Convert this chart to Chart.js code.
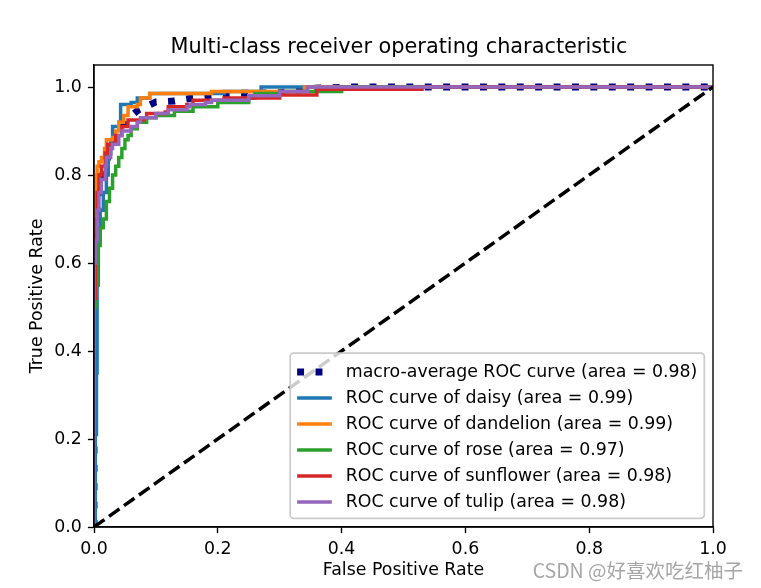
<!DOCTYPE html>
<html>
<head>
<meta charset="utf-8">
<script src="https://cdn.jsdelivr.net/npm/chart.js@4.4.1/dist/chart.umd.min.js"></script>
<style>
  html, body { margin: 0; padding: 0; background: #fff; }
  #wrap { width: 761px; height: 588px; }
</style>
</head>
<body>
<div id="wrap"><canvas id="roc" width="761" height="588"></canvas></div>
<script>
// ROC points [fpr, tpr]
const macroPts = [[0,0],[0,0.5],[0.003,0.65],[0.006,0.75],[0.01,0.78],[0.02,0.83],[0.027,0.86],[0.04,0.9],[0.052,0.925],[0.072,0.948],[0.1,0.966],[0.13,0.968],[0.16,0.975],[0.19,0.98],[0.21,0.985],[0.3,0.987],[0.35,0.997],[0.42,1.0],[1,1]];
const daisyPts = [[0,0],[0.002,0],[0.002,0.21],[0.004,0.35],[0.005,0.55],[0.007,0.65],[0.01,0.72],[0.015,0.76],[0.02,0.8],[0.023,0.85],[0.027,0.88],[0.03,0.91],[0.04,0.92],[0.043,0.96],[0.06,0.965],[0.07,0.975],[0.09,0.985],[0.2,0.985],[0.21,0.99],[0.27,0.99],[0.27,1.0],[1,1]];
const dandelionPts = [[0,0],[0,0.72],[0.002,0.76],[0.003,0.8],[0.005,0.82],[0.008,0.83],[0.012,0.84],[0.017,0.86],[0.02,0.88],[0.03,0.885],[0.035,0.9],[0.04,0.92],[0.048,0.935],[0.055,0.955],[0.07,0.96],[0.075,0.975],[0.09,0.985],[0.18,0.985],[0.19,0.99],[0.34,0.99],[0.34,1.0],[1,1]];
const rosePts = [[0,0],[0,0.5],[0.003,0.55],[0.005,0.6],[0.007,0.64],[0.01,0.68],[0.015,0.7],[0.02,0.74],[0.025,0.77],[0.03,0.8],[0.035,0.82],[0.04,0.84],[0.045,0.86],[0.05,0.88],[0.055,0.89],[0.06,0.905],[0.07,0.92],[0.085,0.93],[0.1,0.935],[0.13,0.945],[0.16,0.955],[0.2,0.965],[0.25,0.975],[0.26,0.985],[0.3,0.99],[0.4,0.99],[0.4,1.0],[1,1]];
const sunflowerPts = [[0,0],[0,0.52],[0.002,0.6],[0.003,0.7],[0.005,0.76],[0.008,0.8],[0.012,0.82],[0.018,0.85],[0.022,0.87],[0.035,0.89],[0.045,0.91],[0.055,0.925],[0.08,0.93],[0.085,0.94],[0.115,0.943],[0.12,0.955],[0.15,0.96],[0.16,0.97],[0.21,0.975],[0.3,0.975],[0.3,0.982],[0.35,0.982],[0.36,0.995],[0.53,0.995],[0.53,1.0],[1,1]];
const tulipPts = [[0,0],[0,0.6],[0.003,0.65],[0.005,0.72],[0.008,0.76],[0.012,0.79],[0.018,0.82],[0.02,0.84],[0.027,0.86],[0.03,0.87],[0.04,0.89],[0.045,0.9],[0.06,0.91],[0.07,0.92],[0.075,0.93],[0.1,0.94],[0.12,0.948],[0.15,0.955],[0.155,0.96],[0.18,0.965],[0.19,0.97],[0.245,0.97],[0.25,0.98],[0.3,0.98],[0.3,0.99],[0.34,0.99],[0.345,1.0],[1,1]];
const chancePts = [[0,0],[1,1]];

const seriesLabels = [
  'macro-average ROC curve (area = 0.98)',
  'ROC curve of daisy (area = 0.99)',
  'ROC curve of dandelion (area = 0.99)',
  'ROC curve of rose (area = 0.97)',
  'ROC curve of sunflower (area = 0.98)',
  'ROC curve of tulip (area = 0.98)'
];
const xTicks = [0, 0.2, 0.4, 0.6, 0.8, 1.0];
const yTicks = [0, 0.2, 0.4, 0.6, 0.8, 1.0];

const FONT = 'DejaVu Sans';
const PX = 125 / 72; // matplotlib points -> pixels

function toXY(pts) {
  return pts.map(p => ({ x: p[0], y: p[1] }));
}

function rocSet(label, pts, color, order, extra) {
  return Object.assign({
    label: label,
    data: toXY(pts),
    borderColor: color,
    backgroundColor: color,
    borderWidth: 2 * PX,
    pointRadius: 0,
    fill: false,
    tension: 0,
    stepped: true,
    clip: 0,
    order: order
  }, extra || {});
}

const datasets = [
  rocSet(seriesLabels[0], macroPts, '#000080', 6, { stepped: false, borderWidth: 4 * PX, borderDash: [1 * 4 * PX, 1.65 * 4 * PX], borderCapStyle: 'butt' }),
  rocSet(seriesLabels[1], daisyPts, '#1f77b4', 5),
  rocSet(seriesLabels[2], dandelionPts, '#ff7f0e', 4),
  rocSet(seriesLabels[3], rosePts, '#2ca02c', 3),
  rocSet(seriesLabels[4], sunflowerPts, '#d62728', 2),
  rocSet(seriesLabels[5], tulipPts, '#9467bd', 1),
  rocSet(null, chancePts, '#000000', 0, { stepped: false, borderDash: [3.7 * 2 * PX, 1.6 * 2 * PX], borderCapStyle: 'butt', inLegend: false })
];

// frame, title, legend box and watermark, drawn like matplotlib does
const decorPlugin = {
  id: 'decor',
  afterDatasetsDraw(chart) {
    const ctx = chart.ctx;
    const a = chart.chartArea;
    ctx.save();

    // spines
    ctx.strokeStyle = '#000';
    ctx.lineWidth = 0.8 * PX;
    ctx.strokeRect(a.left, a.top, a.right - a.left, a.bottom - a.top);

    // title
    ctx.fillStyle = '#000';
    ctx.font = (12 * PX) + 'px "' + FONT + '"';
    ctx.textAlign = 'center';
    ctx.textBaseline = 'alphabetic';
    ctx.fillText('Multi-class receiver operating characteristic', 399, 53);

    // legend
    const fs = 10 * PX;
    const items = chart.data.datasets.filter(d => d.inLegend !== false);
    ctx.font = fs + 'px "' + FONT + '"';
    let textW = 0;
    items.forEach(d => { textW = Math.max(textW, ctx.measureText(d.label).width); });
    const rowH = 26;
    const boxW = 0.4 * fs + 2 * fs + 0.8 * fs + textW + 0.4 * fs;
    const boxH = 0.4 * fs * 2 + rowH * items.length - 0.5 * fs + 4;
    const bx = a.right - 0.5 * fs - boxW;
    const by = a.bottom - 0.5 * fs - boxH;
    const r = 0.2 * fs;
    ctx.beginPath();
    ctx.moveTo(bx + r, by);
    ctx.arcTo(bx + boxW, by, bx + boxW, by + boxH, r);
    ctx.arcTo(bx + boxW, by + boxH, bx, by + boxH, r);
    ctx.arcTo(bx, by + boxH, bx, by, r);
    ctx.arcTo(bx, by, bx + boxW, by, r);
    ctx.closePath();
    ctx.fillStyle = 'rgba(255,255,255,0.8)';
    ctx.fill();
    ctx.strokeStyle = '#cccccc';
    ctx.lineWidth = 1 * PX;
    ctx.stroke();

    ctx.textAlign = 'left';
    ctx.textBaseline = 'middle';
    items.forEach((d, i) => {
      const cy = by + 0.4 * fs + 12 + i * rowH;
      const hx = bx + 0.4 * fs;
      ctx.beginPath();
      ctx.strokeStyle = d.borderColor;
      ctx.lineWidth = d.borderWidth;
      ctx.lineCap = 'butt';
      ctx.setLineDash(d.borderDash || []);
      ctx.moveTo(hx, cy);
      ctx.lineTo(hx + 2 * fs, cy);
      ctx.stroke();
      ctx.setLineDash([]);
      ctx.fillStyle = '#000';
      ctx.fillText(d.label, hx + 2.8 * fs, cy);
    });

    // watermark
    ctx.fillStyle = '#a6a6a6';
    ctx.font = '19.5px "Noto Sans CJK SC"';
    ctx.textAlign = 'right';
    ctx.textBaseline = 'middle';
    ctx.fillText('CSDN @好喜欢吃红柚子', 743, 571);

    ctx.restore();
  }
};

function tickOpts() {
  return {
    color: '#000',
    font: { family: FONT, size: 10 * PX },
    padding: 3.5 * PX,
    autoSkip: false,
    maxRotation: 0,
    callback: v => Number(v).toFixed(1)
  };
}

new Chart(document.getElementById('roc'), {
  type: 'line',
  data: { datasets: datasets },
  plugins: [decorPlugin],
  options: {
    responsive: false,
    animation: false,
    devicePixelRatio: 1,
    layout: { padding: { left: 0, top: 65, right: 48, bottom: 0 } },
    plugins: {
      legend: { display: false },
      title: { display: false },
      tooltip: { enabled: false }
    },
    scales: {
      x: {
        type: 'linear',
        min: 0,
        max: 1,
        afterBuildTicks: s => { s.ticks = xTicks.map(v => ({ value: v })); },
        afterFit: s => { s.height = 61; },
        ticks: tickOpts(),
        grid: { drawOnChartArea: false, drawTicks: true, tickLength: 3.5 * PX, tickWidth: 0.8 * PX, tickColor: '#000' },
        border: { display: true, color: '#000', width: 0.8 * PX },
        title: { display: true, text: 'False Positive Rate', color: '#000', font: { family: FONT, size: 10 * PX }, padding: { top: 0, bottom: 7 } }
      },
      y: {
        type: 'linear',
        min: 0,
        max: 1.05,
        afterBuildTicks: s => { s.ticks = yTicks.map(v => ({ value: v })); },
        afterFit: s => { s.width = 94; },
        ticks: tickOpts(),
        grid: { drawOnChartArea: false, drawTicks: true, tickLength: 3.5 * PX, tickWidth: 0.8 * PX, tickColor: '#000' },
        border: { display: true, color: '#000', width: 0.8 * PX },
        title: { display: true, text: 'True Positive Rate', color: '#000', font: { family: FONT, size: 10 * PX }, padding: { top: 27, bottom: 0 } }
      }
    }
  }
});
</script>
</body>
</html>
